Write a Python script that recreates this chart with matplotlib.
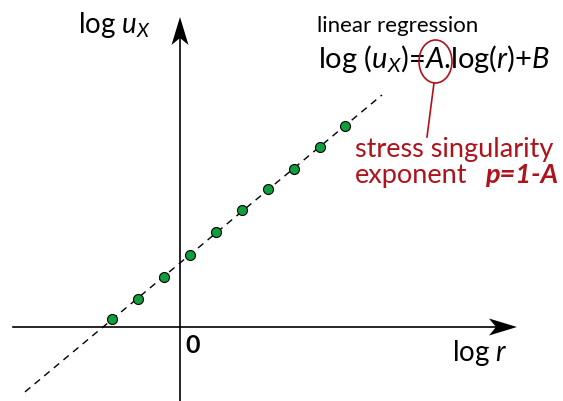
import numpy as np
import matplotlib
matplotlib.use("Agg")
import matplotlib.pyplot as plt
from matplotlib.patches import Polygon, Ellipse

# ---- data (log r, log u_x) ----
log_r = [-0.68, -0.42, -0.16, 0.10, 0.36, 0.62, 0.88, 1.14, 1.40, 1.65]
log_u = [0.08, 0.28, 0.50, 0.72, 0.95, 1.17, 1.38, 1.58, 1.80, 2.01]

FONT = "Lato"
plt.rcParams['font.family'] = [FONT, 'DejaVu Sans']
plt.rcParams['mathtext.fontset'] = 'custom'
plt.rcParams['mathtext.rm'] = FONT
plt.rcParams['mathtext.it'] = FONT + ':italic'
plt.rcParams['mathtext.bf'] = FONT + ':bold'

W, H = 563, 401
fig = plt.figure(figsize=(W / 100, H / 100), dpi=100)
ax = fig.add_axes([0, 0, 1, 1])
OX, OY, S = 180, 327, 100.0  # origin pixel, pixels per unit
ax.set_xlim(-OX / S, (W - OX) / S)
ax.set_ylim(-(H - OY) / S, OY / S)
ax.axis('off')


def P(px, py):
    return (px - OX) / S, (OY - py) / S


# axes with stealth arrowheads
def arrow_head(tip, direction, length=0.28, half=0.085, notch=0.07):
    d = np.array(direction, float)
    n = np.array([-d[1], d[0]])
    t = np.array(tip)
    base = t - d * length
    pts = [t, base + n * half, t - d * (length - notch), base - n * half]
    ax.add_patch(Polygon(pts, closed=True, color='black', zorder=5, lw=0))

x0, _ = P(13, 0)
x1, _ = P(517, 0)
ax.plot([x0, x1 - 0.2], [0, 0], color='black', lw=1.2, zorder=4)
arrow_head((x1, 0), (1, 0))
_, y0 = P(0, 401)
_, y1 = P(0, 17)
ax.plot([0, 0], [y0, y1 - 0.2], color='black', lw=1.2, zorder=4)
arrow_head((0, y1), (0, 1))

# regression line
A, B = np.polyfit(log_r, log_u, 1)
xl = np.array([P(25, 0)[0], P(382, 0)[0]])
ax.plot(xl, A * xl + B, color='black', lw=1.0, linestyle=(0, (5, 4)), zorder=3)

ax.plot(log_r, log_u, 'o', ms=7.2, mfc='#0FA03C', mec='black', mew=0.8, zorder=6)

# texts
ax.text(*P(78, 33), r'log $u_X$', fontsize=20, ha='left', va='baseline')
ax.text(*P(317, 32), 'linear regression', fontsize=16, ha='left', va='baseline')
ax.text(*P(318, 68), r'log ($u_X$)=$A$.log($r$)+$B$', fontsize=21, ha='left', va='baseline')
ax.text(*P(185, 353), '0', fontsize=18, fontweight='bold', ha='left', va='baseline')
ax.text(*P(452, 361), r'log $r$', fontsize=20, ha='left', va='baseline')

RED = '#B0121B'
ax.text(*P(355, 157), 'stress singularity', fontsize=19.5, color=RED, ha='left', va='baseline')
ax.text(*P(355, 183), 'exponent', fontsize=19.5, color=RED, ha='left', va='baseline')
ax.text(*P(558, 183), 'p=1-A', fontsize=19.5, color=RED, fontweight='bold', style='italic',
        ha='right', va='baseline')

cx, cy = P(435.5, 61.5)
ax.add_patch(Ellipse((cx, cy), 33 / S, 43 / S, fill=False, ec=RED, lw=1.2, zorder=7))
ax.plot(*zip(P(434, 83), P(427, 137)), color=RED, lw=1.2)

fig.savefig('out.png', dpi=100)
